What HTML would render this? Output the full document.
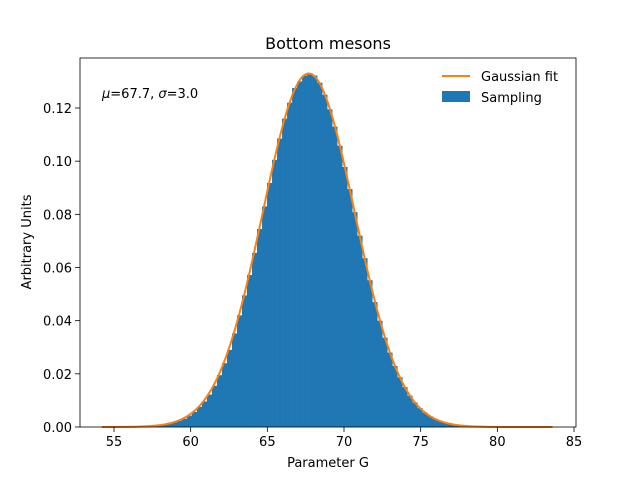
<!DOCTYPE html>
<html><head><meta charset="utf-8">
<style>
html,body{margin:0;padding:0;background:#fff;}
svg{display:block;font-family:"DejaVu Sans","Liberation Sans",sans-serif;}
</style></head>
<body>
<svg id="chart" width="640" height="480" viewBox="0 0 640 480" xmlns="http://www.w3.org/2000/svg">
<rect x="0" y="0" width="640" height="480" fill="#fff"/>
<g id="plot"></g>
<text x="328" y="49" font-size="16" text-anchor="middle">Bottom mesons</text>
<text x="328" y="467" font-size="13" text-anchor="middle">Parameter G</text>
<text transform="translate(31,242) rotate(-90)" font-size="13" text-anchor="middle">Arbitrary Units</text>
<text x="102" y="98" font-size="13"><tspan font-style="italic">μ</tspan>=67.7, <tspan font-style="italic">σ</tspan>=3.0</text>
<g>
  <line x1="442" y1="76" x2="470" y2="76" stroke="#ff7f0e" stroke-width="2"/>
  <text x="481" y="81" font-size="13">Gaussian fit</text>
  <rect x="442" y="91" width="28" height="11" fill="#1f77b4"/>
  <text x="481" y="102" font-size="13">Sampling</text>
</g>
</svg>
<script>
const binStart = 54.2;
const binWidth = 0.3267;
const binValues = [0,0,0,0,0,0,0,0,0.0001,0.0002,
0.0005,0.0007,0.0010,0.0013,0.0018,0.0024,0.0031,0.0043,0.0057,0.0076,
0.0096,0.0122,0.0155,0.0195,0.0240,0.0290,0.0352,0.0420,0.0495,0.0572,
0.0655,0.0745,0.0830,0.0918,0.1005,0.1085,0.1160,0.1220,0.1275,0.1300,
0.1322,0.1330,0.1322,0.1295,0.1250,0.1195,0.1130,0.1058,0.0978,0.0895,
0.0808,0.0720,0.0635,0.0552,0.0470,0.0400,0.0336,0.0280,0.0230,0.0187,
0.0150,0.0118,0.0092,0.0071,0.0054,0.0041,0.0030,0.0023,0.0016,0.0012,
0.0008,0.0006,0.0004,0.0003,0.0002,0.0001,0.0001,0,0,0];
const fitParams = [67.7, 3.0];
const fitRange = [54.2, 83.6];
const xTicks = [55,60,65,70,75,80,85];
const yTicks = [0.00,0.02,0.04,0.06,0.08,0.10,0.12];

const AX = {l:80, r:576, t:58, b:427};
const xs = v => 114 + (v-55)*(460/30);
const ys = v => 427 - v*(319/0.12);
const NS = "http://www.w3.org/2000/svg";
const g = document.getElementById('plot');
function mk(tag, attrs){const e=document.createElementNS(NS,tag);for(const k in attrs)e.setAttribute(k,attrs[k]);return e;}

binValues.forEach((v,i)=>{
  if(v<=0) return;
  const x0 = xs(binStart+i*binWidth), x1 = xs(binStart+(i+1)*binWidth);
  const r = mk('rect',{x:x0,y:ys(v),width:x1-x0+0.3,height:ys(0)-ys(v),fill:'#1f77b4'});
  
  
  g.appendChild(r);
});

let pts=[];
const mu=fitParams[0], sd=fitParams[1];
for(let k=0;k<=300;k++){
  const x = fitRange[0]+(fitRange[1]-fitRange[0])*k/300;
  const y = Math.exp(-0.5*((x-mu)/sd)**2)/(sd*Math.sqrt(2*Math.PI));
  pts.push(xs(x).toFixed(2)+','+ys(y).toFixed(2));
}
const line = mk('polyline',{points:pts.join(' '),fill:'none',stroke:'#ff7f0e','stroke-width':2});


g.appendChild(line);

const frame = mk('rect',{x:AX.l,y:AX.t,width:AX.r-AX.l,height:AX.b-AX.t,fill:'none',stroke:'#000','stroke-width':0.8});


g.appendChild(frame);

xTicks.forEach(t=>{
  const x=xs(t);
  const tk=mk('line',{x1:x,y1:AX.b,x2:x,y2:AX.b+5,stroke:'#000','stroke-width':0.8});
  
  
  g.appendChild(tk);
  const tx=mk('text',{x:x,y:AX.b+19,'font-size':13,'text-anchor':'middle'});
  tx.textContent=t;
  
  
  g.appendChild(tx);
});
yTicks.forEach(t=>{
  const y=ys(t);
  const tk=mk('line',{x1:AX.l-5,y1:y,x2:AX.l,y2:y,stroke:'#000','stroke-width':0.8});
  
  
  g.appendChild(tk);
  const tx=mk('text',{x:AX.l-8,y:y+5,'font-size':13,'text-anchor':'end'});
  tx.textContent=t.toFixed(2);
  
  
  g.appendChild(tx);
});
</script>
</body></html>
